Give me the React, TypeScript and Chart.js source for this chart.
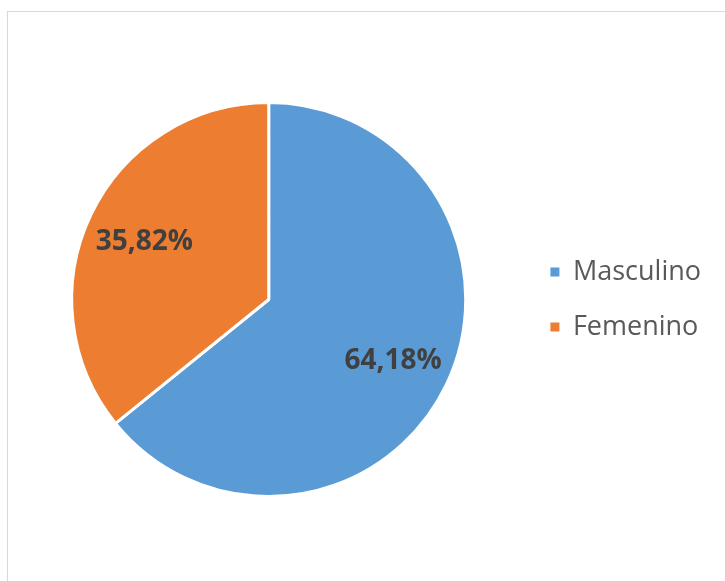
import React, { useEffect, useRef } from "react";
import { Chart, registerables } from "chart.js";

Chart.register(...registerables);

const categories = ["Masculino", "Femenino"];
const values = [64.18, 35.82];
const colors = ["#5B9BD5", "#ED7D31"];

const FONT = "'Open Sans', 'Noto Sans', sans-serif";

const framePlugin = {
  id: "frame",
  beforeDraw(chart: any) {
    const ctx = chart.ctx;
    ctx.save();
    ctx.fillStyle = "#ffffff";
    ctx.fillRect(0, 0, chart.width, chart.height);
    ctx.strokeStyle = "#d9d9d9";
    ctx.lineWidth = 1;
    ctx.strokeRect(7.5, 11.5, 900, 900);
    ctx.restore();
  },
};

const labelPlugin = {
  id: "pieLabels",
  afterDatasetsDraw(chart: any) {
    const ctx = chart.ctx;
    const meta = chart.getDatasetMeta(0);
    ctx.save();
    ctx.font = `bold 28px ${FONT}`;
    ctx.fillStyle = "#404040";
    ctx.textAlign = "center";
    ctx.textBaseline = "middle";
    meta.data.forEach((arc: any, i: number) => {
      const p = arc.getProps(["x", "y", "startAngle", "endAngle", "outerRadius"], true);
      const mid = (p.startAngle + p.endAngle) / 2;
      const r = p.outerRadius * 0.7;
      const x = p.x + Math.cos(mid) * r;
      const y = p.y + Math.sin(mid) * r + 2;
      const txt = values[i].toFixed(2).replace(".", ",") + "%";
      ctx.fillText(txt, x, y);
    });
    ctx.restore();
  },
};

export default function App() {
  const ref = useRef<HTMLCanvasElement | null>(null);
  useEffect(() => {
    if (!ref.current) return;
    const defaultLabels = (Chart as any).overrides.pie.plugins.legend.labels.generateLabels;
    const chart = new Chart(ref.current, {
      type: "pie",
      data: {
        labels: categories,
        datasets: [
          {
            data: values,
            backgroundColor: colors,
            borderColor: "#ffffff",
            borderWidth: 3,
          },
        ],
      },
      options: {
        responsive: false,
        animation: false,
        layout: { padding: { left: 15, right: 14, top: 101, bottom: 83 } },
        plugins: {
          tooltip: { enabled: false },
          legend: {
            position: "right",
            labels: {
              boxWidth: 9,
              boxHeight: 9,
              padding: 28,
              color: "#595959",
              font: { family: FONT, size: 27 },
              generateLabels: (c: any) =>
                defaultLabels(c).map((l: any) => ({ ...l, lineWidth: 0, strokeStyle: "rgba(0,0,0,0)" })),
            },
          },
        },
      },
      plugins: [framePlugin, labelPlugin],
    });
    return () => chart.destroy();
  }, []);
  return (
    <div style={{ position: "fixed", left: 0, top: 0, width: 725, height: 581, background: "#fff" }}>
      <canvas ref={ref} width={725} height={581} style={{ display: "block" }} />
    </div>
  );
}
